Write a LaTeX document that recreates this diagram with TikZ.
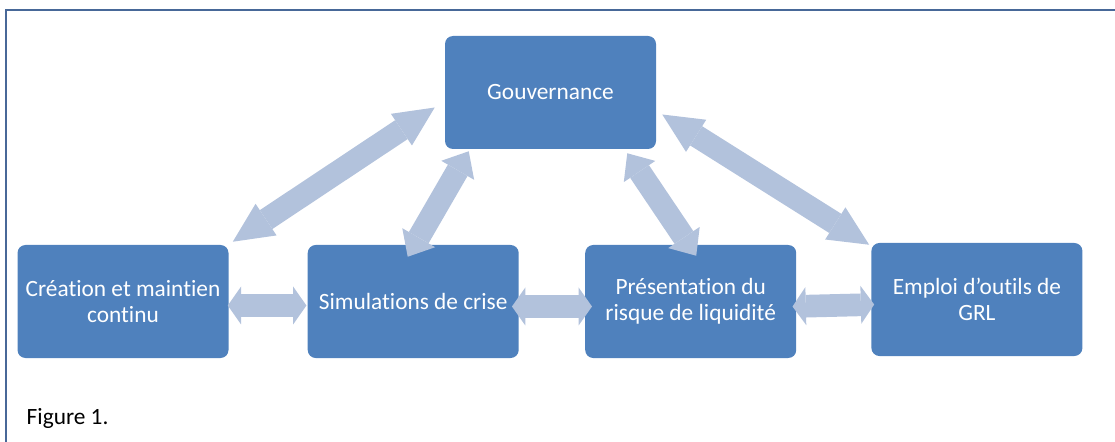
\documentclass[tikz,border=0pt]{standalone}
\usepackage{fontspec}
\setmainfont{Carlito}[Ligatures=NoCommon]
\usepackage{tikz}
\usetikzlibrary{positioning,arrows.meta}
\definecolor{boxblue}{RGB}{79,129,189}
\definecolor{linkblue}{RGB}{178,194,220}
\definecolor{framecolor}{RGB}{72,104,152}

\begin{document}
\begin{tikzpicture}[
  x=0.75pt, y=-0.75pt,
  stage/.style={rectangle, rounded corners=6pt, fill=boxblue, text=white,
    minimum width=158.25pt, minimum height=84.75pt, inner sep=2pt,
    align=center, font=\fontsize{17.5}{19.5}\selectfont},
  link/.style={line width=17pt, draw=linkblue,
    {Triangle[length=#1, width=28.5pt, line width=0pt]}-{Triangle[length=#1, width=28.5pt, line width=0pt]}},
  framebar/.style={draw=framecolor, line width=1.5pt}
]
  \useasboundingbox (0,0) rectangle (1115,442);
  \draw[framebar] (6,442) |- (1115,10);

  % Stages
  \node[stage] (crea) at (123,301.5) {Création et maintien\\continu};
  \node[stage, right=59pt of crea] (simu) {Simulations de crise};
  \node[stage, right=49.5pt of simu] (pres) {Présentation du\\risque de liquidité};
  \node[stage, right=56pt of pres, yshift=1.5pt] (emploi) {Emploi d’outils de\\GRL};
  \node[stage] (gouv) at (550.5,92.5) {Gouvernance};
  \node[anchor=base west, font=\fontsize{17.5}{19.5}\selectfont] (caption) at (22,424) {Figure 1.};

  % Links
  \draw[link=30pt] ([shift={(4,-3)}]crea.north east) -- ([shift={(-10,15)}]gouv.west);
  \draw[link=16.5pt] ([shift={(-5.5,12)}]simu.north) -- ([shift={(24,2)}]gouv.south west);
  \draw[link=16.5pt] ([shift={(5.5,11)}]pres.north) -- ([shift={(-29,4)}]gouv.south east);
  \draw[link=30pt] ([shift={(-2,2)}]emploi.north west) -- ([shift={(6,22)}]gouv.east);
  \draw[link=10pt] ([shift={(-1,4)}]crea.east) -- ([shift={(-1,4)}]simu.west);
  \draw[link=10pt] ([shift={(-7,5)}]simu.east) -- ([shift={(7,5)}]pres.west);
  \draw[link=10pt] ([shift={(-4,5)}]pres.east) -- ([shift={(3,5)}]emploi.west);
\end{tikzpicture}
\end{document}
